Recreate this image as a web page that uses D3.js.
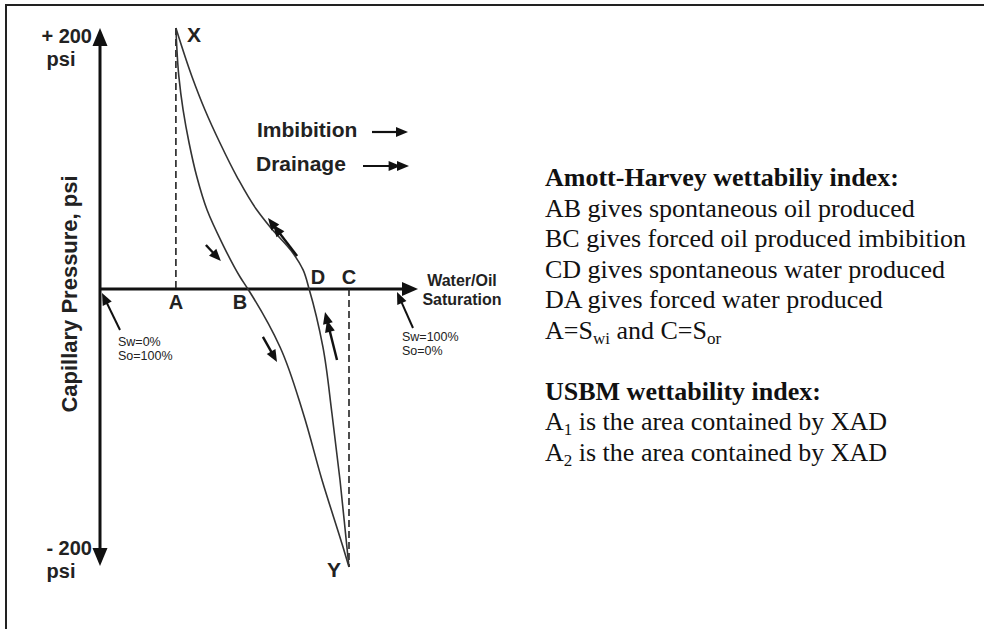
<!DOCTYPE html>
<html>
<head>
<meta charset="utf-8">
<script src="https://cdnjs.cloudflare.com/ajax/libs/d3/7.8.5/d3.min.js"></script>
<style>
	body { margin:0; background:#fff; }
	svg text.sans { font-family: "Liberation Sans", Arial, sans-serif; font-weight: bold; fill:#222; }
	svg text.serif { font-family: "Liberation Serif", "Times New Roman", serif; fill:#111; }
</style>
</head>
<body>
<svg id="chart" width="984" height="629"></svg>
<script>
	// water saturation (%) , capillary pressure (psi)
	var imbibition = [[25.3,200],[26.3,162.5],[27.7,137.2],[29.7,111.9],[32.3,85.8],[35.7,60.5],
		[40.7,35.2],[46.7,9.2],[49.3,0],[60,-41.7],[67.7,-89.2],[74,-137.4],[81,-185.6],[83,-200]];
	var drainage = [[83,-200],[82.3,-185.6],[80,-137.4],[77.3,-89.2],[74.3,-41.7],[69.7,0],
		[67.7,14.6],[64.3,27.6],[56.7,47.5],[52.3,60.5],[45.7,85.8],[40,111.9],[35,137.2],
		[30.7,162.5],[25.3,200]];
	var pointNames = ["A","B","D","C"];
	var pointSat = [25.3, 49.3, 69.7, 83];
	// direction arrows on the curves [sat1, pc1, sat2, pc2]
	var imbArrows = [[35.3,33.7,40.3,21.5],[54.3,-34.5,59,-52.5]];
	var drnArrows = [[65.7,25.3,56,54.4],[79,-51.1,75,-16.5]];
	var yTicks = ["+ 200", "- 200"];

	var amottTitle = "Amott-Harvey wettabiliy index:";
	var amottLines = ["AB gives spontaneous oil produced",
		"BC gives forced oil produced imbibition",
		"CD gives spontaneous water produced",
		"DA gives forced water produced"];
	var usbmTitle = "USBM wettability index:";

	var svg = d3.select("#chart");
	var x = d3.scaleLinear().domain([0,100]).range([100,400]);
	var y = d3.scaleLinear().domain([-200,0,200]).range([567,289,28]);

	// frame
	svg.append("rect").attr("x",6).attr("y",5).attr("width",1000).attr("height",700)
		.attr("fill","none").attr("stroke","#222").attr("stroke-width",2);

	function head(x1,y1,x2,y2,len,wid){
		var dx = x2-x1, dy = y2-y1, l = Math.sqrt(dx*dx+dy*dy);
		var ux = dx/l, uy = dy/l;
		var bx = x2-ux*len, by = y2-uy*len;
		return [[x2,y2],[bx-uy*wid/2,by+ux*wid/2],[bx+uy*wid/2,by-ux*wid/2]];
	}
	function arrow(x1,y1,x2,y2,len,wid,sw,dbl){
		var dx = x2-x1, dy = y2-y1, l = Math.sqrt(dx*dx+dy*dy);
		svg.append("line").attr("x1",x1).attr("y1",y1)
			.attr("x2",x2-dx/l*len*0.6).attr("y2",y2-dy/l*len*0.6)
			.attr("stroke","#111").attr("stroke-width",sw);
		svg.append("polygon").attr("points",head(x1,y1,x2,y2,len,wid).join(" ")).attr("fill","#111");
		if(dbl){
			var x3 = x2-dx/l*len*0.7, y3 = y2-dy/l*len*0.7;
			svg.append("polygon").attr("points",head(x1,y1,x3,y3,len,wid).join(" ")).attr("fill","#111");
		}
	}

	// axes
	arrow(x(0), y(0), 418, y(0), 16, 14, 3, false);
	arrow(x(0), y(0), x(0), y(200), 18, 15, 3, false);
	arrow(x(0), y(0), x(0), 566, 18, 15, 3, false);

	// dashed verticals
	svg.append("line").attr("x1",x(pointSat[0])).attr("x2",x(pointSat[0]))
		.attr("y1",y(200)).attr("y2",y(0))
		.attr("stroke","#222").attr("stroke-width",1.6).attr("stroke-dasharray","7,4");
	svg.append("line").attr("x1",x(pointSat[3])).attr("x2",x(pointSat[3]))
		.attr("y1",y(0)).attr("y2",y(-200))
		.attr("stroke","#222").attr("stroke-width",1.6).attr("stroke-dasharray","7,4");

	var line = d3.line().x(function(d){return x(d[0]);}).y(function(d){return y(d[1]);})
		.curve(d3.curveMonotoneY);
	[imbibition, drainage.slice().reverse()].forEach(function(c){
		svg.append("path").attr("d",line(c)).attr("fill","none")
			.attr("stroke","#333").attr("stroke-width",1.6);
	});

	imbArrows.forEach(function(a){
		arrow(x(a[0]),y(a[1]),x(a[2]),y(a[3]),12,10,2.4,false);
	});
	drnArrows.forEach(function(a){
		arrow(x(a[0]),y(a[1]),x(a[2]),y(a[3]),12,10,2.4,true);
	});

	// point labels
	var labelDx = {A:0, B:-8, D:9, C:0};
	pointNames.forEach(function(n,i){
		var above = (n=="D" || n=="C");
		svg.append("text").attr("class","sans").attr("x",x(pointSat[i]) + labelDx[n])
			.attr("y", above ? y(0)-5 : y(0)+20)
			.attr("text-anchor","middle").style("font-size","20px").text(n);
	});
	svg.append("text").attr("class","sans").attr("x",x(imbibition[0][0])+11).attr("y",y(200)+14)
		.style("font-size","21px").text("X");
	svg.append("text").attr("class","sans").attr("x",x(83)-8).attr("y",y(-200)+10)
		.attr("text-anchor","end").style("font-size","21px").text("Y");

	// y tick labels
	svg.append("text").attr("class","sans").attr("x",92).attr("y",43).attr("text-anchor","end")
		.style("font-size","20px").text(yTicks[0]);
	svg.append("text").attr("class","sans").attr("x",61).attr("y",66).attr("text-anchor","middle")
		.style("font-size","20px").text("psi");
	svg.append("text").attr("class","sans").attr("x",92).attr("y",555).attr("text-anchor","end")
		.style("font-size","20px").text(yTicks[1]);
	svg.append("text").attr("class","sans").attr("x",61).attr("y",578).attr("text-anchor","middle")
		.style("font-size","20px").text("psi");

	// axis title
	svg.append("text").attr("class","sans")
		.attr("transform","translate(77,294) rotate(-90)")
		.attr("text-anchor","middle").style("font-size","22px").text("Capillary Pressure, psi");

	svg.append("text").attr("class","sans").attr("text-anchor","middle").style("font-size","16px")
		.attr("x",462).attr("y",286).text("Water/Oil");
	svg.append("text").attr("class","sans").attr("text-anchor","middle").style("font-size","16px")
		.attr("x",462).attr("y",305).text("Saturation");

	// saturation end notes
	function note(x0,y0,lines){
		lines.forEach(function(s,i){
			svg.append("text").attr("class","sans").attr("x",x0).attr("y",y0+i*14)
				.style("font-size","12.5px").style("font-weight","normal").text(s);
		});
	}
	arrow(120,330,102,293,12,10,2,false);
	note(118,346,["Sw=0%","So=100%"]);
	arrow(413,328,397,292,12,10,2,false);
	note(402,341,["Sw=100%","So=0%"]);

	// legend
	svg.append("text").attr("class","sans").attr("x",257).attr("y",137)
		.style("font-size","21px").text("Imbibition");
	arrow(372,132,408,132,12,10,2.2,false);
	svg.append("text").attr("class","sans").attr("x",256).attr("y",171)
		.style("font-size","21px").text("Drainage");
	arrow(363,166,409,166,12,10,2.2,true);

	// right text
	var tx = 545, ty = 186, lh = 30.5, fs = "26px", sub = "17px";
	var t = svg.append("text").attr("class","serif").style("font-size",fs);
	t.append("tspan").attr("x",tx).attr("y",ty).style("font-weight","bold").text(amottTitle);
	amottLines.forEach(function(s,i){
		t.append("tspan").attr("x",tx).attr("y",ty+lh*(i+1)).text(s);
	});
	var s1 = svg.append("text").attr("class","serif").attr("x",tx).attr("y",ty+lh*5).style("font-size",fs);
	s1.append("tspan").text("A=S");
	s1.append("tspan").attr("dy",5).style("font-size",sub).text("wi");
	s1.append("tspan").attr("dy",-5).text(" and C=S");
	s1.append("tspan").attr("dy",5).style("font-size",sub).text("or");

	svg.append("text").attr("class","serif").attr("x",tx).attr("y",ty+lh*7)
		.style("font-size",fs).style("font-weight","bold").text(usbmTitle);
	[1,2].forEach(function(k,i){
		var a = svg.append("text").attr("class","serif").attr("x",tx).attr("y",ty+lh*(8+i))
			.style("font-size",fs);
		a.append("tspan").text("A");
		a.append("tspan").attr("dy",5).style("font-size",sub).text(k);
		a.append("tspan").attr("dy",-5).text(" is the area contained by XAD");
	});
</script>
</body>
</html>
